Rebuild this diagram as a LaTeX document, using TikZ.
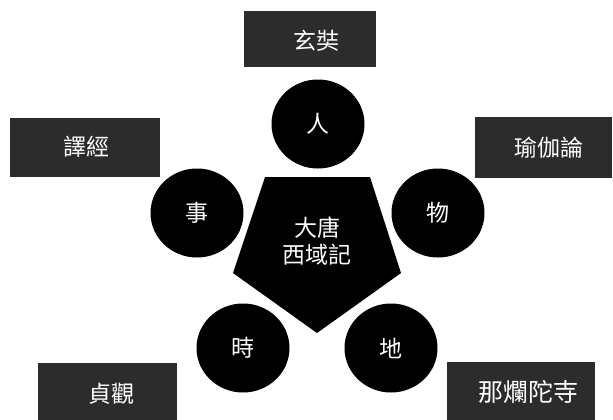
\documentclass[tikz,border=0pt]{standalone}
\usepackage{fontspec}
\newfontfamily\cjk{Noto Sans CJK TC}
\usetikzlibrary{shapes.geometric}
\definecolor{boxgray}{RGB}{44,44,44}
\begin{document}
\begin{tikzpicture}[x=1pt,y=-1pt,
  disc/.style={ellipse,fill=black,minimum width=93pt,minimum height=89pt,inner sep=0pt},
  tagbox/.style={rectangle,fill=boxgray,inner sep=0pt},
  lbl/.style={text=white,inner sep=0pt,font=\cjk\fontsize{23}{23}\selectfont}]
\useasboundingbox[fill=white] (0,0) rectangle (613,420);
% boxes
\node[tagbox,minimum width=132pt,minimum height=56pt] (bTop) at (310,39) {};
\node[tagbox,minimum width=150pt,minimum height=59pt] (bLeft) at (85,147.5) {};
\node[tagbox,minimum width=137pt,minimum height=61pt] (bRight) at (543.5,147.5) {};
\node[tagbox,minimum width=139pt,minimum height=58pt] (bBL) at (107.5,392) {};
\node[tagbox,minimum width=148pt,minimum height=58pt] (bBR) at (521,391) {};
\node[lbl] (tTop) at (316,41) {玄奘};
\node[lbl] (tLeft) at (86,147) {譯經};
\node[lbl] (tRight) at (549,148) {瑜伽論};
\node[lbl] (tBL) at (111,394) {貞觀};
\node[lbl,font=\cjk\fontsize{25}{25}\selectfont] (tBR) at (528,392) {那爛陀寺};
% pentagon
\fill[black] (265,177) -- (370,177) -- (401,273) -- (317,333) -- (233,273) -- cycle;
\node[lbl,align=center,font=\cjk\fontsize{23}{27}\selectfont] (center) at (317,241) {大唐\\西域記};
% discs
\node[disc] (ren) at (318,124) {};
\node[disc] (shi) at (197,213) {};
\node[disc] (wu) at (438,213) {};
\node[disc] (shi2) at (243,348) {};
\node[disc] (di) at (391,348) {};
\node[lbl] at (ren) {人};
\node[lbl] at (shi) {事};
\node[lbl] at (wu) {物};
\node[lbl] at (shi2) {時};
\node[lbl] at (di) {地};
\end{tikzpicture}
\end{document}
